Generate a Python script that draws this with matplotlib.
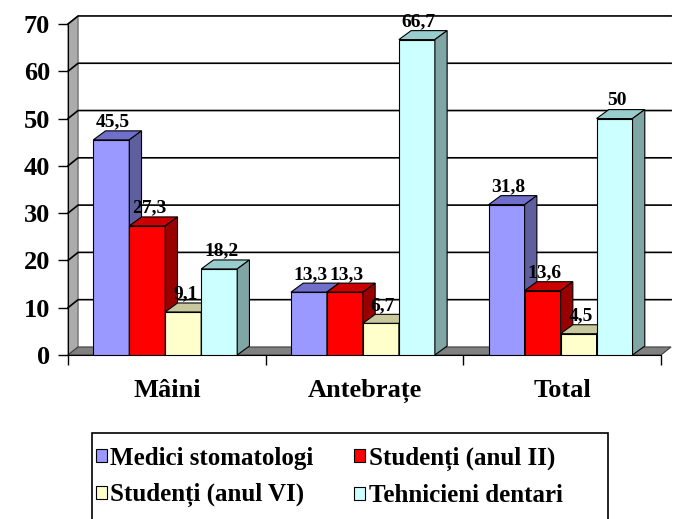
import matplotlib.pyplot as plt
from matplotlib.patches import Polygon, Patch, Rectangle
import numpy as np

categories = ['Mâini', 'Antebrațe', 'Total']
series_names = ['Medici stomatologi', 'Studenți (anul II)',
                'Studenți (anul VI)', 'Tehnicieni dentari']
medici = [45.5, 13.3, 31.8]
studenti_II = [27.3, 13.3, 13.6]
studenti_VI = [9.1, 6.7, 4.5]
tehnicieni = [18.2, 66.7, 50]
y_ticks = [0, 10, 20, 30, 40, 50, 60, 70]

# front, top, side colours per series
colors = [('#9999ff', '#7070cc', '#5f5f9e'),
          ('#ff0000', '#cc0000', '#990000'),
          ('#ffffcc', '#c8c89c', '#99996a'),
          ('#ccffff', '#99cccc', '#7fa5a5')]

plt.rcParams['font.family'] = ['Liberation Serif', 'DejaVu Serif']
plt.rcParams['font.weight'] = 'bold'

fig = plt.figure(figsize=(6.78, 5.19), dpi=100)
ax = fig.add_axes([68 / 678, 164 / 519, 593 / 678, 331 / 519])
ax.set_xlim(-0.5, 2.5)
ax.set_ylim(0, 70)

wdx, wdy = 0.051, 1.7   # depth of walls
bdx, bdy = 0.062, 1.9   # depth of bars
width = 0.182

# left wall and floor
ax.add_patch(Polygon([(-0.5, 0), (-0.5 + wdx, wdy), (-0.5 + wdx, 70 + wdy), (-0.5, 70)],
                     closed=True, fc='#ababab', ec='#606060', lw=0.8, clip_on=False, zorder=1))
ax.add_patch(Polygon([(-0.5, 0), (2.5, 0), (2.5 + wdx, wdy), (-0.5 + wdx, wdy)],
                     closed=True, fc='#808080', ec='#404040', lw=0.8, clip_on=False, zorder=1))

# grid lines on the back wall
for t in y_ticks[1:]:
    ax.plot([-0.5, -0.5 + wdx, 2.5 + wdx], [t, t + wdy, t + wdy],
            color='black', lw=1.2, clip_on=False, zorder=1.5)

series = [medici, studenti_II, studenti_VI, tehnicieni]
for i, vals in enumerate(series):
    front, top, side = colors[i]
    x = np.arange(len(categories)) - 0.372 + i * width
    z = 3 + i
    ax.bar(x, vals, width, align='edge', color=front, edgecolor='black', lw=0.8, zorder=z)
    for xi, v in zip(x, vals):
        ax.add_patch(Polygon([(xi, v), (xi + width, v), (xi + width + bdx, v + bdy), (xi + bdx, v + bdy)],
                             closed=True, fc=top, ec='black', lw=0.8, zorder=z, clip_on=False))
        ax.add_patch(Polygon([(xi + width, 0), (xi + width + bdx, bdy), (xi + width + bdx, v + bdy), (xi + width, v)],
                             closed=True, fc=side, ec='black', lw=0.8, zorder=z, clip_on=False))
        ax.text(xi + width / 2 + 0.01, v + bdy + 0.9, f'{v:g}'.replace('.', ','),
                ha='center', va='baseline', fontsize=14, zorder=10)

ax.spines['top'].set_visible(False)
ax.spines['right'].set_visible(False)
ax.spines['left'].set_zorder(2)
ax.spines['bottom'].set_zorder(2)

ax.set_yticks(y_ticks)
ax.tick_params(axis='y', length=7, width=1, pad=6, labelsize=19)
ax.set_xticks([-0.5, 0.5, 1.5, 2.5], [''] * 4)
ax.tick_params(axis='x', which='major', length=7, width=1)
ax.set_xticks(range(len(categories)), categories, minor=True)
ax.tick_params(axis='x', which='minor', length=0, pad=17, labelsize=19)

# legend box, open at the bottom of the picture
fig.add_artist(Rectangle((92 / 678, -0.02), (608 - 92) / 678, 0.02 + (519 - 433) / 519,
                         transform=fig.transFigure, fill=False, ec='black', lw=1.2))

order = [0, 2, 1, 3]
handles = [Patch(fc=colors[k][0], ec='black', lw=0.8) for k in order]
labels = [series_names[k] for k in order]
fig.legend(handles, labels, ncol=2, loc='center left',
           bbox_to_anchor=(83 / 678, 1 - 477 / 519), frameon=False, fontsize=18,
           handlelength=0.45, handleheight=0.45, handletextpad=0.15,
           columnspacing=1.6, labelspacing=0.55, borderpad=0)

fig.savefig('out.png', dpi=100)
